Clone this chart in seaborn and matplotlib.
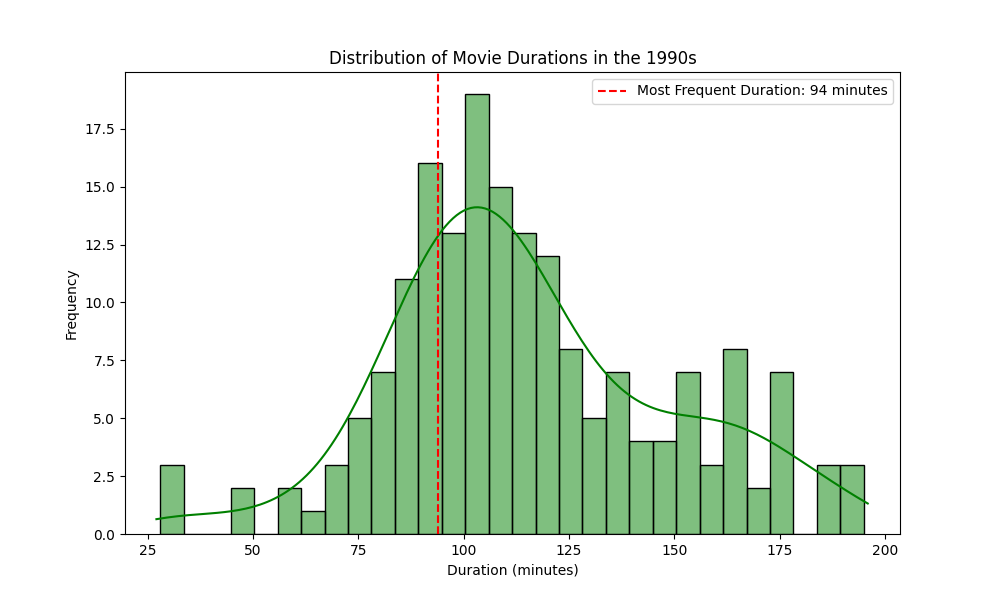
import numpy as np
import pandas as pd
import matplotlib
matplotlib.use("Agg")
import matplotlib.pyplot as plt
import seaborn as sns

dmin, dmax = 28, 195
counts = [3, 0, 0, 2, 0, 2, 1, 3, 5, 7, 11, 16, 13, 19, 15, 13, 12, 8, 5, 7,
          4, 4, 7, 3, 8, 2, 7, 0, 3, 3]
mode_duration = 94

edges = np.linspace(dmin, dmax, len(counts) + 1)
centers = (edges[:-1] + edges[1:]) / 2
df = pd.DataFrame({"duration": centers, "count": counts})

fig, ax = plt.subplots(figsize=(10, 6), dpi=100)
sns.histplot(data=df, x="duration", weights="count", bins=len(counts),
             binrange=(dmin, dmax), kde=True, color="green", ax=ax,
             kde_kws={"bw_adjust": 0.6, "cut": 0.25})
ax.axvline(mode_duration, color="red", linestyle="--",
           label=f"Most Frequent Duration: {mode_duration} minutes")
ax.set_xlim(19.6, 203.6)
ax.set_title("Distribution of Movie Durations in the 1990s")
ax.set_xlabel("Duration (minutes)")
ax.set_ylabel("Frequency")
ax.legend()
fig.savefig("out.png")
